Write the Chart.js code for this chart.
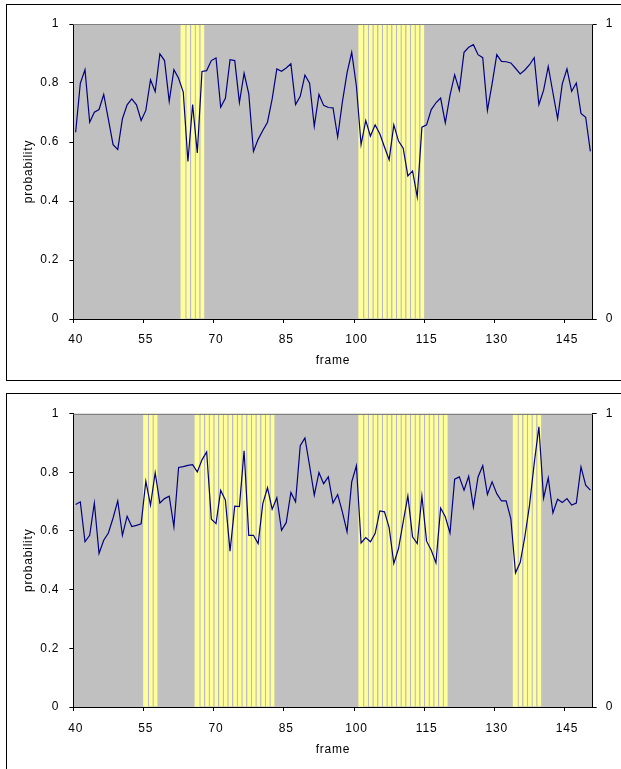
<!DOCTYPE html>
<html><head><meta charset="utf-8">
<script src="https://cdn.jsdelivr.net/npm/chart.js@4.4.1/dist/chart.umd.min.js"></script>
<style>
html,body{margin:0;padding:0;background:#fff;width:621px;height:769px;overflow:hidden;position:relative}
.box{position:absolute;border:1px solid #000;}
#box1{left:6px;top:4px;width:700px;height:375px}
#box2{left:6px;top:393px;width:700px;height:400px}
canvas{position:absolute;left:0}
#c1{top:0}
#c2{top:389px}
</style></head><body>
<div class="box" id="box1"></div><div class="box" id="box2"></div>
<canvas id="c1" width="621" height="385"></canvas>
<canvas id="c2" width="621" height="380"></canvas>
<script>
const firstFrame = 40, lastFrame = 150;
const frames = [];
for (let f = firstFrame; f <= lastFrame; f++) frames.push(String(f));
const xTickLabels = ['40','55','70','85','100','115','130','145'];
const yTicks = [0, 0.2, 0.4, 0.6, 0.8, 1];
const y2Ticks = [0, 1];

const topValues = [
0.633,0.799,0.845,0.667,0.701,0.710,0.761,0.677,0.591,0.575,
0.679,0.726,0.746,0.726,0.673,0.707,0.811,0.771,0.899,0.876,
0.738,0.845,0.816,0.769,0.534,0.727,0.563,0.839,0.842,0.876,
0.885,0.718,0.748,0.879,0.876,0.734,0.833,0.763,0.568,0.609,
0.639,0.667,0.746,0.848,0.840,0.851,0.865,0.727,0.755,0.827,
0.799,0.653,0.761,0.724,0.717,0.716,0.617,0.735,0.834,0.904,
0.790,0.591,0.673,0.620,0.658,0.628,0.583,0.540,0.658,0.603,
0.579,0.485,0.502,0.414,0.650,0.658,0.710,0.733,0.749,0.665,
0.758,0.828,0.775,0.904,0.921,0.930,0.896,0.886,0.707,0.797,
0.896,0.873,0.872,0.868,0.850,0.831,0.844,0.862,0.886,0.727,
0.775,0.856,0.767,0.679,0.797,0.848,0.772,0.800,0.697,0.684,
0.568];

const bottomValues = [
0.690,0.699,0.563,0.585,0.695,0.523,0.568,0.593,0.644,0.702,
0.585,0.650,0.615,0.619,0.624,0.769,0.688,0.798,0.695,0.710,
0.718,0.614,0.816,0.819,0.823,0.826,0.801,0.842,0.869,0.640,
0.625,0.738,0.705,0.531,0.684,0.683,0.873,0.585,0.585,0.557,
0.693,0.747,0.674,0.713,0.602,0.628,0.731,0.699,0.890,0.917,
0.822,0.722,0.799,0.761,0.784,0.695,0.724,0.665,0.597,0.767,
0.822,0.559,0.577,0.563,0.591,0.668,0.665,0.611,0.489,0.540,
0.631,0.719,0.580,0.557,0.719,0.565,0.534,0.491,0.678,0.648,
0.593,0.776,0.784,0.739,0.786,0.681,0.784,0.822,0.724,0.767,
0.727,0.702,0.702,0.642,0.457,0.492,0.580,0.688,0.830,0.955,
0.712,0.781,0.661,0.708,0.697,0.710,0.688,0.695,0.818,0.756,
0.739];

const topBandFrames = [63,64,65,66,67,
  101,102,103,104,105,106,107,108,109,110,111,112,113,114];
const bottomBandFrames = [55,56,57,
  66,67,68,69,70,71,72,73,74,75,76,77,78,79,80,81,82,
  101,102,103,104,105,106,107,108,109,110,111,112,113,114,115,116,117,118,119,
  134,135,136,137,138,139];

const FONT = 'Liberation Sans, Arial, sans-serif';

function makeChart(id, values, bandFrames, g) {
  const inBand = frames.map(f => bandFrames.includes(Number(f)));
  const bandData = inBand.map(b => b ? 1 : null);
  const plotBg = {
    id: 'plotBg',
    beforeDraw(c) {
      const a = c.chartArea, x = c.ctx;
      x.letterSpacing = '0.8px';
      x.save(); x.fillStyle = '#c0c0c0';
      x.fillRect(a.left, a.top, a.right - a.left, a.bottom - a.top);
      x.restore();
    },
    afterDatasetsDraw(c) {
      const a = c.chartArea, x = c.ctx;
      x.save(); x.strokeStyle = '#808080'; x.lineWidth = 1;
      x.beginPath(); x.moveTo(a.left, Math.round(a.top) + 0.5); x.lineTo(a.right, Math.round(a.top) + 0.5); x.stroke();
      x.restore();
    }
  };
  new Chart(document.getElementById(id), {
    data: {
      labels: frames,
      datasets: [
        { type: 'line', data: values, yAxisID: 'y', borderColor: '#000080', borderWidth: 1.2,
          pointRadius: 0, tension: 0, fill: false, order: 0 },
        { type: 'bar', data: bandData, yAxisID: 'y2', backgroundColor: '#ffff99',
          borderColor: '#b8b8c4',
          borderWidth: ctx => (ctx.dataIndex > 0 && inBand[ctx.dataIndex - 1]) ? {left: 1.2, right: 0, top: 0, bottom: 0} : 0,
          barPercentage: 1, categoryPercentage: 1, order: 1 }
      ]
    },
    options: {
      responsive: false, animation: false, devicePixelRatio: 1, events: [],
      layout: { padding: { top: g.padTop, left: 0, right: 0, bottom: 0 } },
      plugins: { legend: { display: false }, tooltip: { enabled: false } },
      scales: {
        x: {
          type: 'category', offset: true, position: 'bottom', z: 1,
          grid: { offset: true, drawOnChartArea: false, tickLength: 4, color: 'rgba(0,0,0,0)',
            tickColor: c => xTickLabels.includes(frames[c.index]) ? '#000' : 'rgba(0,0,0,0)' },
          border: { color: '#000', width: 1 },
          ticks: { autoSkip: false, maxRotation: 0, minRotation: 0, padding: g.xPad, color: '#000',
            font: { family: FONT, size: 12 },
            callback(v, i) { const l = frames[i]; return xTickLabels.includes(l) ? l : ''; } },
          title: { display: true, text: 'frame', color: '#000', font: { family: FONT, size: 12 },
            padding: { top: 0, bottom: g.titlePad } },
          afterFit(s) { s.height = g.xHeight; }
        },
        y: {
          position: 'left', min: 0, max: 1, z: 1,
          afterBuildTicks(s) { s.ticks = yTicks.map(v => ({ value: v })); },
          grid: { drawOnChartArea: false, tickLength: 4, color: '#000' },
          border: { color: '#000', width: 1 },
          ticks: { padding: 10, color: '#000', font: { family: FONT, size: 12 }, callback: v => String(v) },
          title: { display: true, text: 'probability', color: '#000', font: { family: FONT, size: 12 },
            padding: { top: g.yTitlePad, bottom: 0 } },
          afterFit(s) { s.width = 73.3; }
        },
        y2: {
          position: 'right', min: 0, max: 1, z: 1,
          afterBuildTicks(s) { s.ticks = y2Ticks.map(v => ({ value: v })); },
          grid: { drawOnChartArea: false, tickLength: 4, color: '#000' },
          border: { color: '#000', width: 1 },
          ticks: { padding: 9, color: '#000', font: { family: FONT, size: 12 }, callback: v => String(v) },
          afterFit(s) { s.width = 28.3; }
        }
      }
    },
    plugins: [plotBg]
  });
}

makeChart('c1', topValues, topBandFrames, { padTop: 24, xHeight: 66, xPad: 9.3, titlePad: 16.8, yTitlePad: 21.8 });
makeChart('c2', bottomValues, bottomBandFrames, { padTop: 24.5, xHeight: 62, xPad: 10.5, titlePad: 11.8, yTitlePad: 21.8 });
</script>
</body></html>
